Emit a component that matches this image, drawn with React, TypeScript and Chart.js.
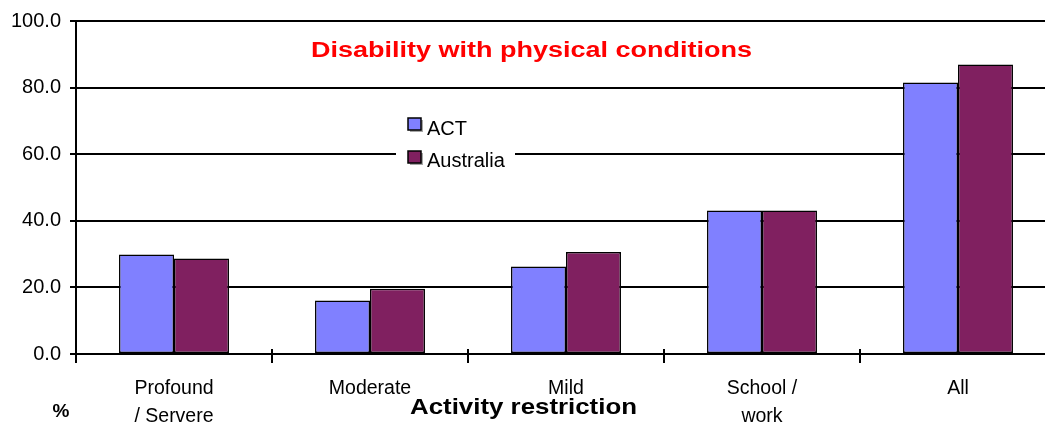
import React, { useEffect, useRef } from "react";
import { Chart, registerables } from "chart.js";

Chart.register(...registerables);

const categories: (string | string[])[] = [["Profound", "/ Servere"], "Moderate", "Mild", ["School /", "work"], "All"];
const actValues = [29.9, 16.1, 26.3, 43.1, 81.5];
const australiaValues = [28.7, 19.6, 30.6, 43.1, 86.9];
const seriesNames = ["ACT", "Australia"];
const seriesColors = ["#8080FF", "#802060"];
const chartTitle = "Disability with physical conditions";
const xAxisTitle = "Activity restriction";
const yUnitLabel = "%";

const FONT = "'Liberation Sans', Arial, sans-serif";

function drawStretched(ctx: CanvasRenderingContext2D, text: string, cx: number, baseline: number, font: string, targetWidth: number | null) {
  ctx.save();
  ctx.font = font;
  const w = ctx.measureText(text).width;
  const sx = targetWidth ? targetWidth / w : 1;
  ctx.translate(cx, baseline);
  ctx.scale(sx, 1);
  ctx.textAlign = "center";
  ctx.textBaseline = "alphabetic";
  ctx.fillText(text, 0, 0);
  ctx.restore();
}

const overlayPlugin = {
  id: "overlay",
  afterDatasetsDraw(chart: any) {
    const ctx: CanvasRenderingContext2D = chart.ctx;
    const area = chart.chartArea;
    // x tick marks crossing the axis slightly
    const xs = chart.scales.x;
    ctx.save();
    ctx.strokeStyle = "#000";
    ctx.lineWidth = 2;
    for (let i = 1; i < chart.data.labels.length; i++) {
      const px = Math.round((xs.getPixelForTick(i - 1) + xs.getPixelForTick(i)) / 2);
      ctx.beginPath();
      ctx.moveTo(px, area.bottom - 5);
      ctx.lineTo(px, area.bottom);
      ctx.stroke();
    }
    ctx.restore();

    ctx.save();
    ctx.fillStyle = "#ffffff";
    ctx.fillRect(396, 108, 119, 64);
    const rows = [
      { boxY: 118, baseline: 135 },
      { boxY: 151, baseline: 166.7 },
    ];
    chart.data.datasets.forEach((ds: any, i: number) => {
      const r = rows[i];
      ctx.fillStyle = "rgba(0,0,0,0.35)";
      ctx.fillRect(410, r.boxY + 2, 13, 12);
      ctx.fillStyle = ds.backgroundColor;
      ctx.fillRect(408, r.boxY, 13, 12);
      ctx.strokeStyle = "#000";
      ctx.lineWidth = 1.5;
      ctx.strokeRect(408, r.boxY, 13, 12);
      ctx.fillStyle = "#000";
      ctx.font = `20px ${FONT}`;
      ctx.textAlign = "left";
      ctx.textBaseline = "alphabetic";
      ctx.fillText(ds.label, 427, r.baseline);
    });
    ctx.restore();

    ctx.save();
    ctx.fillStyle = "#FF0000";
    drawStretched(ctx, chartTitle, 531.5, 57, `bold 22px ${FONT}`, 441);
    ctx.fillStyle = "#000";
    drawStretched(ctx, xAxisTitle, 523.5, 413.5, `bold 22px ${FONT}`, 227);
    drawStretched(ctx, yUnitLabel, 61, 416.5, `bold 19px ${FONT}`, null);
    ctx.restore();
  },
};

export default function App() {
  const canvasRef = useRef<HTMLCanvasElement | null>(null);

  useEffect(() => {
    if (!canvasRef.current) return;
    const chart = new Chart(canvasRef.current, {
      type: "bar",
      data: {
        labels: categories,
        datasets: [
          {
            label: seriesNames[0],
            data: actValues,
            backgroundColor: seriesColors[0],
            borderColor: "#000",
            borderWidth: 1.5,
            borderSkipped: false,
            barPercentage: 1,
            categoryPercentage: 0.561,
          },
          {
            label: seriesNames[1],
            data: australiaValues,
            backgroundColor: seriesColors[1],
            borderColor: "#000",
            borderWidth: 1.5,
            borderSkipped: false,
            barPercentage: 1,
            categoryPercentage: 0.561,
          },
        ],
      },
      options: {
        animation: false,
        responsive: false,
        devicePixelRatio: 1,
        layout: { padding: { left: 0, top: 20, right: 4, bottom: 0 } },
        plugins: {
          legend: { display: false },
          title: { display: false },
          tooltip: { enabled: false },
        },
        scales: {
          x: {
            offset: true,
            grid: {
              offset: true,
              drawOnChartArea: false,
              drawTicks: true,
              tickLength: 9,
              color: "#000",
              lineWidth: 2,
            },
            border: { display: true, color: "#000", width: 2 },
            ticks: {
              color: "#000",
              font: { family: FONT, size: 19.5, lineHeight: "28px" } as any,
              padding: 12,
              maxRotation: 0,
              autoSkip: false,
            },
            afterFit: (s: any) => {
              s.height = 68;
            },
          },
          y: {
            min: 0,
            max: 100,
            grid: {
              color: "#000",
              lineWidth: 2,
              drawTicks: true,
              tickLength: 6,
            },
            border: { display: true, color: "#000", width: 2 },
            ticks: {
              stepSize: 20,
              color: "#000",
              padding: 9,
              font: { family: FONT, size: 20 },
              callback: (v: any) => Number(v).toFixed(1),
            },
            afterFit: (s: any) => {
              s.width = 76;
            },
          },
        },
      },
      plugins: [overlayPlugin],
    });
    return () => chart.destroy();
  }, []);

  return (
    <div style={{ position: "absolute", left: 0, top: 0, width: 1045, height: 422, overflow: "hidden", background: "#fff" }}>
      <canvas ref={canvasRef} width={1060} height={422} style={{ display: "block" }} />
    </div>
  );
}
